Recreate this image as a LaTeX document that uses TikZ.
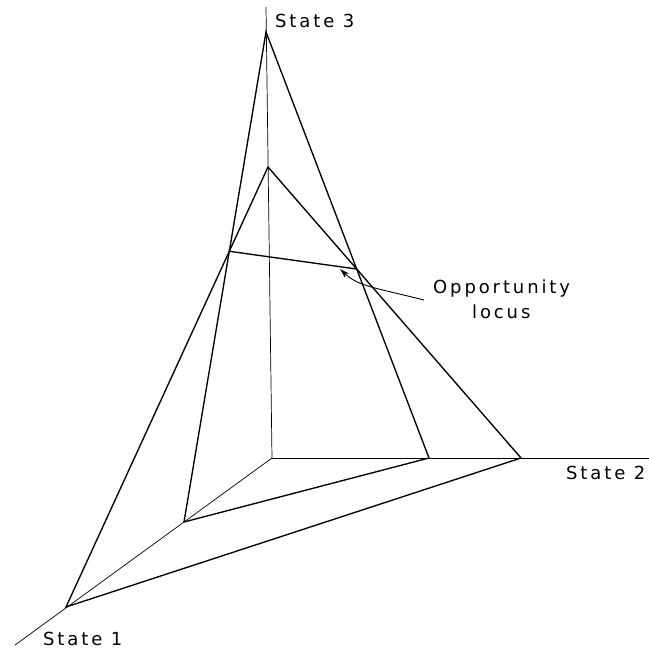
\documentclass[tikz,border=0pt]{standalone}
\usepackage{fontspec}
\setmainfont{DejaVu Sans}[LetterSpace=16]
\usetikzlibrary{arrows.meta}
\begin{document}
\begin{tikzpicture}[x=1pt,y=-1pt,
  axis/.style={line width=0.7pt},
  edge/.style={line width=1.35pt, line join=miter},
  lbl/.style={font=\fontsize{18}{21}\selectfont, inner sep=0pt, anchor=base west},
  pointer/.style={line width=0.9pt, -{Stealth[length=10pt,width=6pt]}}
  ]
\useasboundingbox (0,0) rectangle (649,648);
% axes
\coordinate (O) at (272,458);
\coordinate (A3) at (266,7);
\coordinate (A2) at (649,458);
\coordinate (A1) at (15,645);
\draw[axis] (O) -- (A3);
\draw[axis] (O) -- (A2);
\draw[axis] (O) -- (A1);
% budget triangles
\coordinate (P3) at (266,32);
\coordinate (Q1) at (184,522);
\coordinate (Q2) at (429,458);
\coordinate (R3) at (268,167);
\coordinate (R1) at (66,607);
\coordinate (R2) at (521,458);
\draw[edge] (P3) -- (Q1) -- (Q2) -- cycle;
\draw[edge] (R3) -- (R1) -- (R2) -- cycle;
% opportunity locus
\coordinate (L) at (intersection of P3--Q1 and R3--R1);
\coordinate (M) at (intersection of P3--Q2 and R3--R2);
\draw[edge] (L) -- (M);
% labels
\node[lbl] (s3) at (275,27) {State 3};
\node[lbl] (s2) at (566,479) {State 2};
\node[lbl] (s1) at (43,645) {State 1};
\node[lbl] (opp) at (433,293) {Opportunity};
\node[lbl] (loc) at (472,318) {locus};
\coordinate (tip) at (340,269);
\draw[pointer] ([xshift=-9pt,yshift=-7pt]opp.base west) .. controls (372,287) and (358,286) .. (tip);
\end{tikzpicture}
\end{document}
